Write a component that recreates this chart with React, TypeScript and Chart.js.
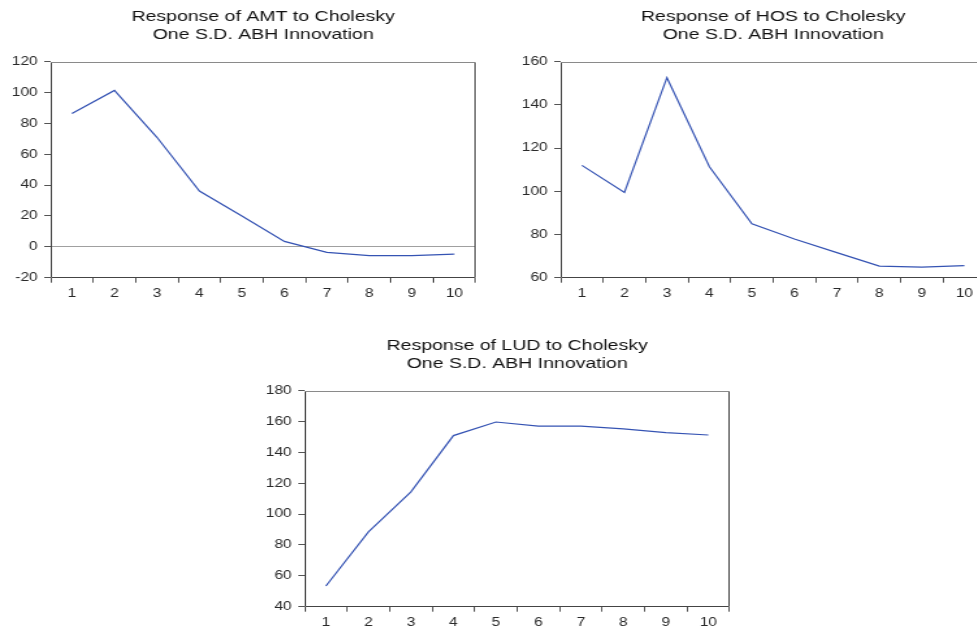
import React, { useEffect, useRef } from "react";
import { Chart, registerables } from "chart.js";

Chart.register(...registerables);

const periods = ["1", "2", "3", "4", "5", "6", "7", "8", "9", "10"];
const amtResponse = [86.5, 101.4, 71, 36.2, 20, 3.5, -3.6, -5.7, -5.7, -4.7];
const hosResponse = [112, 99.5, 152.6, 111.4, 85, 77.9, 71.6, 65.4, 64.9, 65.6];
const ludResponse = [53.4, 88.5, 114.4, 150.9, 159.7, 157.1, 157.1, 155.2, 152.8, 151.3];

const amtTitle = ["Response of AMT to Cholesky", "One S.D. ABH Innovation"];
const hosTitle = ["Response of HOS to Cholesky", "One S.D. ABH Innovation"];
const ludTitle = ["Response of LUD to Cholesky", "One S.D. ABH Innovation"];

const STRETCH = 1.3;
const CW = 377;
const CH = 300;
const FONT = "'Liberation Sans', Arial, sans-serif";

const framePlugin = {
  id: "frame",
  afterDatasetsDraw(chart: any) {
    const { ctx, chartArea: a } = chart;
    const l = Math.round(a.left) + 0.5;
    const r = Math.round(a.right) - 0.5;
    const t = Math.round(a.top) + 0.5;
    const b = Math.round(a.bottom) - 0.5;
    ctx.save();
    ctx.lineWidth = 1;
    ctx.strokeStyle = "#8a8a8a";
    ctx.beginPath();
    ctx.moveTo(l, t);
    ctx.lineTo(r, t);
    ctx.stroke();
    ctx.strokeStyle = "#444";
    ctx.beginPath();
    ctx.moveTo(r, t);
    ctx.lineTo(r, b);
    ctx.lineTo(l, b);
    ctx.lineTo(l, t);
    ctx.stroke();
    ctx.restore();
  },
};

type PanelProps = {
  title: string[];
  values: number[];
  min: number;
  max: number;
  left: number;
  top: number;
};

function Panel({ title, values, min, max, left, top }: PanelProps) {
  const ref = useRef<HTMLCanvasElement | null>(null);
  useEffect(() => {
    if (!ref.current) return;
    const chart = new Chart(ref.current, {
      type: "line",
      data: {
        labels: periods,
        datasets: [
          {
            data: values,
            borderColor: "#3553b3",
            borderWidth: 1.2,
            pointRadius: 0,
            tension: 0,
            fill: false,
          },
        ],
      },
      options: {
        responsive: false,
        animation: false,
        devicePixelRatio: 1,
        layout: { padding: { left: 0, right: 11.1, top: 0, bottom: 0 } },
        plugins: {
          legend: { display: false },
          tooltip: { enabled: false },
          title: {
            display: true,
            fullSize: false,
            text: title,
            color: "#111",
            font: { family: FONT, size: 15, weight: "normal", lineHeight: 1.2 },
            padding: { top: 8, bottom: 17.7 },
          },
        },
        scales: {
          x: {
            type: "category",
            offset: true,
            grid: {
              offset: true,
              drawOnChartArea: false,
              drawTicks: true,
              tickLength: 5,
              tickColor: "#555",
            },
            border: { display: false },
            ticks: {
              color: "#2a2a2a",
              font: { family: FONT, size: 12 },
              padding: 4,
              maxRotation: 0,
              autoSkip: false,
            },
            afterFit: (s: any) => {
              s.height = 22.3;
            },
          },
          y: {
            min,
            max,
            grid: {
              drawOnChartArea: true,
              color: (c: any) => (c.tick && c.tick.value === 0 ? "#a0a0a0" : "rgba(0,0,0,0)"),
              tickColor: "#555",
              tickLength: 5,
              lineWidth: 1,
            },
            border: { display: false },
            ticks: {
              stepSize: 20,
              color: "#2a2a2a",
              font: { family: FONT, size: 12 },
              padding: 5,
            },
            afterFit: (s: any) => {
              s.width = 39;
            },
          },
        },
      },
      plugins: [framePlugin],
    });
    return () => chart.destroy();
  }, [title, values, min, max]);

  return (
    <canvas
      ref={ref}
      width={CW}
      height={CH}
      style={{
        position: "absolute",
        left: `${left}px`,
        top: `${top}px`,
        width: `${CW * STRETCH}px`,
        height: `${CH}px`,
      }}
    />
  );
}

export default function App() {
  return (
    <div
      style={{
        position: "fixed",
        left: 0,
        top: 0,
        width: "977px",
        height: "628px",
        overflow: "hidden",
        background: "#fff",
      }}
    >
      <Panel title={amtTitle} values={amtResponse} min={-20} max={120} left={0} top={0} />
      <Panel title={hosTitle} values={hosResponse} min={60} max={160} left={510.3} top={0} />
      <Panel title={ludTitle} values={ludResponse} min={40} max={180} left={253.6} top={329.3} />
    </div>
  );
}
